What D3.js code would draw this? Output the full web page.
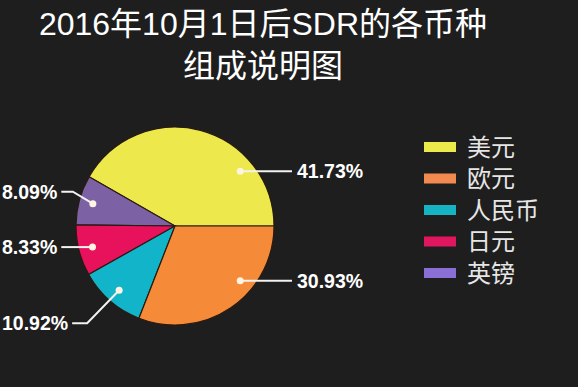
<!DOCTYPE html>
<html><head><meta charset="utf-8">
<script src="https://cdn.jsdelivr.net/npm/d3@7"></script>
<style>
html,body{margin:0;padding:0;background:#1e1e1e;}
svg{display:block;}
</style></head>
<body><svg id="c" width="578" height="387"></svg>
<script>
const titleLines = ["2016年10月1日后SDR的各币种", "组成说明图"];
const categories = ["美元", "英镑", "日元", "人民币", "欧元"];
const values = [41.73, 8.09, 8.33, 10.92, 30.93];
const colors = ["#ede84b", "#7c62a5", "#e8115b", "#12b4ca", "#f58a39"];
const legendOrder = ["美元", "欧元", "人民币", "日元", "英镑"];
const legendColors = ["#ecea4a", "#f08a4e", "#15b3c4", "#e0165e", "#8a6fd6"];
const labelDy = [0, -12, 0, 33, 0];

const W = 578, H = 387;
const svg = d3.select("#c");
svg.append("rect").attr("width", W).attr("height", H).attr("fill", "#1e1e1e");

const font = "'Liberation Sans','Noto Sans CJK SC',sans-serif";
svg.append("g").selectAll("text").data(titleLines).join("text")
  .attr("x", 263).attr("y", (d, i) => 35 + i * 42)
  .attr("text-anchor", "middle").attr("fill", "#ffffff")
  .attr("font-family", font).attr("font-size", 32)
  .text(d => d);

const cx = 175, cy = 226, R = 99;
const pie = d3.pie().sort(null).value(d => d)
  .startAngle(Math.PI / 2).endAngle(Math.PI / 2 - 2 * Math.PI);
const arcs = pie(values);
const arc = d3.arc().innerRadius(0).outerRadius(R);
const g = svg.append("g").attr("transform", `translate(${cx},${cy})`);
g.selectAll("path").data(arcs).join("path")
  .attr("d", arc).attr("fill", (d, i) => colors[i])
  .attr("stroke", "#2a1a10").attr("stroke-width", 1.2);

// labels
const fmt = v => v.toFixed(2) + "%";
arcs.forEach((a, i) => {
  let mid = (a.startAngle + a.endAngle) / 2;
  let ang = Math.PI / 2 - mid;
  const right = Math.cos(ang) > 0;
  if (right) {
    let deg = Math.atan2(Math.sin(ang), Math.cos(ang));
    const lim = 40 * Math.PI / 180;
    ang = Math.max(-lim, Math.min(lim, deg));
  }
  const rd = 0.86 * R;
  const px = rd * Math.cos(ang), py = -rd * Math.sin(ang);
  const ly = py + labelDy[i];
  const t = g.append("text")
    .attr("x", right ? 122 : 2 - cx).attr("y", ly)
    .attr("text-anchor", "start")
    .attr("dominant-baseline", "central")
    .attr("fill", "#ffffff").attr("font-family", font)
    .attr("font-weight", "bold").attr("font-size", 19.5)
    .text(fmt(values[i]));
  let pts;
  if (right) {
    pts = [[px, py], [117, py]];
  } else {
    const tw = t.node().getComputedTextLength();
    const x0 = 2 - cx + tw + 4;
    const knee = labelDy[i] === 0 ? px : px + (labelDy[i] < 0 ? -20 : -32);
    pts = [[px, py], [knee, ly], [x0, ly]];
  }
  g.insert("path", "text").attr("d", d3.line()(pts))
    .attr("fill", "none").attr("stroke", "#f2f2f2").attr("stroke-width", 2);
  g.append("circle").attr("cx", px).attr("cy", py).attr("r", 3.5).attr("fill", "#fff4e0");
});

// legend
const lg = svg.append("g");
legendOrder.forEach((name, i) => {
  const y = 147 + i * 31.5;
  lg.append("rect").attr("x", 424).attr("y", y - 5).attr("width", 32).attr("height", 10)
    .attr("fill", legendColors[i]);
  lg.append("text").attr("x", 467).attr("y", y).attr("dominant-baseline", "central")
    .attr("fill", "#e6e6e6").attr("font-family", font).attr("font-size", 24)
    .text(name);
});
</script></body></html>
